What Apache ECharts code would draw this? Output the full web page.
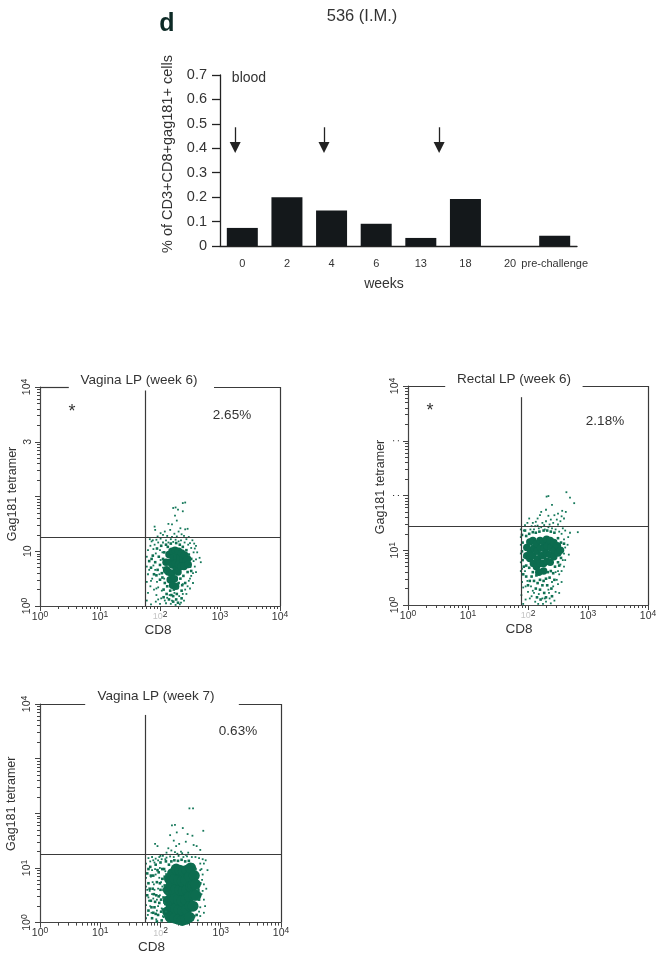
<!DOCTYPE html>
<html>
<head>
<meta charset="utf-8">
<style>
html, body { margin: 0; padding: 0; background: #fff; }
#container { width: 662px; height: 955px; }
</style>
<script src="https://cdn.jsdelivr.net/npm/echarts@6/dist/echarts.min.js"></script>
</head>
<body>
<div id="container"></div>
<script>
var weeks = ['0', '2', '4', '6', '13', '18', '20', 'pre-challenge'];
var tetramerPct = [0.074, 0.2, 0.145, 0.091, 0.033, 0.192, 0, 0.042];
// arrows sit between categories, x in category units
var arrowX = [-0.16, 1.83, 4.41];

var xTickLabels = ['10{s|0}', '10{s|1}', '{f|10}{s|2}', '10{s|3}', '10{s|4}'];
var yTickLabelsA = ['10{s|0}', '10', '', '3', '10{s|4}'];
var yTickLabelsB = ['10{s|0}', '10{s|1}', ':', ':', '10{s|4}'];
var yTickLabelsC = ['10{s|0}', '10{s|1}', '', '', '10{s|4}'];

// flow cytometry dots as [log10 CD8, log10 Gag181]
var denseA = [[2.1,.8],[2.11,.66],[2.15,.94],[2.16,.8],[2.14,.62],[2.17,.48],[2.2,1],[2.22,.88],[2.21,.75],[2.19,.6],[2.25,1.02],[2.28,.9],[2.26,.78],[2.27,.66],[2.24,.5],[2.31,1],[2.33,.88],[2.31,.76],[2.3,.62],[2.36,.97],[2.38,.85],[2.35,.72],[2.41,.93],[2.43,.82],[2.4,.72],[2.46,.86],[2.47,.76],[2.21,.38],[2.26,.36]];
var midA = [[1.82,.82],[1.85,.7],[1.88,.92],[1.9,.58],[1.92,.8],[1.95,1.05],[1.96,.66],[1.98,.9],[2,.48],[2,.75],[2.02,1.1],[2.03,.6],[2.05,.86],[2.06,.3],[2.07,.98],[2.08,.42],[2.1,1.12],[2.11,.22],[2.12,.36],[2.13,1.08],[2.17,.28],[2.18,1.14],[2.22,.18],[2.23,.3],[2.27,1.15],[2.28,.22],[2.31,.42],[2.33,1.12],[2.34,.5],[2.36,.28],[2.38,1.08],[2.39,.55],[2.42,.42],[2.44,1.02],[2.46,.62],[2.48,.94],[2.5,.72],[2.52,.86],[2.22,.08],[2.3,.06],[2.15,.12],[2.36,.14],[2.06,.16],[2.29,.33],[2.19,.2],[2.04,.52],[2.08,.62],[1.94,.56],[1.86,.86],[2.37,.38],[2.52,.64],[2.27,.12]];
var fineA = [[2.22,1.79],[2.26,1.8],[2.38,1.88],[2.42,1.89],[2.3,1.76],[2.25,1.65],[2.38,1.73],[2.2,1.49],[2.17,1.39],[2.14,1.5],[1.91,1.45],[1.92,1.39],[2.28,1.56],[2.34,1.42],[2.42,1.4],[2.46,1.41],[2.01,1.33],[2.08,1.36],[2.24,1.32],[2.31,1.36],[2.36,1.31],[1.96,1.27],[2.05,1.3],[2.12,1.28],[2.2,1.26],[2.28,1.27],[2.4,1.28],[2.48,1.26],[1.83,1.22],[1.88,1.2],[1.94,1.21],[2.01,1.23],[2.1,1.2],[2.18,1.22],[2.26,1.21],[2.35,1.2],[2.44,1.22],[2.54,1.2],[2.6,1.1],[2.62,.98],[2.66,.88],[2.68,.8],[2.58,.72],[2.56,.98],[2.6,.62],[2.52,.55],[2.48,.46],[2.5,.32],[2.44,.22],[2.55,.42],[2.4,.1],[2.33,.03],[2.26,.02],[2.18,.04],[2.1,.05],[2,.04],[1.93,.08],[1.85,.03],[1.78,.1],[1.8,.24],[1.84,.36],[1.78,.44],[1.8,.58],[1.78,.72],[1.78,.9],[1.8,1.02],[1.84,1.1],[1.89,1.04],[1.9,.3],[1.94,.2],[1.97,.34],[2.02,.14],[2.03,.28],[1.95,.44],[1.87,.5],[2.04,.98],[1.93,.96],[2,1.02],[2.42,.3],[2.38,.4],[2.47,1.12],[2.52,1.06],[2.57,1.14],[2.56,.82],[2.35,.06],[2.12,.15],[1.86,1.18],[1.91,1.12],[1.97,1.16],[2.05,1.16],[2.14,1.16],[2.22,1.17],[2.31,1.18],[2.41,1.16],[2.5,1.15],[1.82,.66],[1.85,.46],[1.89,.74],[1.92,.66],[1.94,.32],[1.99,.58],[2.01,.84],[2.05,.7],[2.07,.5],[2.16,.2],[2.2,.1],[2.24,.24],[2.32,.18],[2.38,.22],[2.46,.36],[2.5,.5],[2.55,.6],[2.6,.85],[2.58,1.05],[1.97,.12],[2.08,.1]];

var denseB = [[1.98,1.05],[1.98,.9],[2.03,1.15],[2.04,1],[2.03,.85],[2.08,1.18],[2.1,1.04],[2.08,.9],[2.09,.76],[2.14,1.12],[2.15,.98],[2.16,.84],[2.14,.7],[2.2,1.18],[2.21,1.04],[2.22,.9],[2.2,.76],[2.25,1.16],[2.27,1.03],[2.25,.9],[2.26,.76],[2.31,1.2],[2.32,1.07],[2.31,.94],[2.32,.8],[2.37,1.18],[2.38,1.05],[2.37,.92],[2.37,.78],[2.43,1.14],[2.44,1],[2.43,.88],[2.49,1.08],[2.5,.95],[2.54,1],[2.18,.6],[2.26,.62]];
var midB = [[1.9,1.28],[1.91,1.14],[1.9,.98],[1.91,.82],[1.93,.7],[1.92,.56],[1.97,1.26],[1.97,.72],[1.97,.52],[2.02,1.3],[2.02,.68],[2.03,.44],[2.08,1.33],[2.08,.6],[2.1,.44],[2.13,1.32],[2.14,.54],[2.13,.3],[2.19,1.34],[2.2,.46],[2.2,.28],[2.26,1.36],[2.26,.44],[2.27,.22],[2.32,1.36],[2.33,.6],[2.32,.36],[2.38,1.34],[2.38,.62],[2.39,.3],[2.44,1.32],[2.45,.7],[2.44,.46],[2.5,1.22],[2.5,.78],[2.55,1.14],[2.55,.86],[2.58,1],[2.4,.16],[2.21,.1],[2.15,.14],[2,.36],[2.06,.52],[2.16,.4],[2.24,.36],[2.3,.48],[2.36,.5],[2.42,.58],[1.95,1.36],[2.52,.72],[2.6,1.12],[2.3,.14]];
var fineB = [[2.64,2.06],[2.31,1.98],[2.34,1.99],[2.7,1.96],[2.77,1.86],[2.4,1.83],[2.57,1.72],[2.63,1.7],[2.5,1.67],[2.56,1.62],[2.22,1.7],[2.3,1.74],[2.34,1.63],[2.44,1.64],[2.16,1.58],[2.2,1.64],[2.38,1.56],[2.48,1.56],[2.54,1.53],[2.6,1.58],[2.02,1.58],[2.08,1.5],[2.13,1.52],[2.24,1.5],[2.3,1.53],[2.42,1.5],[2.5,1.47],[1.95,1.46],[1.99,1.5],[2.06,1.44],[2.16,1.45],[2.27,1.46],[2.36,1.47],[2.83,1.33],[2.62,1.36],[2.67,1.24],[2.66,1.1],[2.68,.92],[2.7,1.32],[2.62,.82],[2.6,.7],[2.56,.62],[2.52,.56],[2.56,.42],[2.5,.38],[2.46,.24],[2.52,.22],[2.44,.08],[2.36,.12],[2.3,.06],[2.25,.02],[2.38,.03],[2.12,.06],[2.06,.16],[2,.24],[1.96,.1],[1.92,.02],[1.89,.18],[1.92,.32],[1.9,.42],[1.96,.34],[2.03,.12],[2.08,.26],[2.17,.02],[2.28,.12],[2.35,.22],[1.88,.62],[1.88,.78],[1.88,.94],[1.88,1.1],[1.88,1.24],[1.88,1.38],[1.93,1.36],[2.04,1.38],[2.18,1.4],[2.34,1.42],[2.46,1.38],[2.56,1.3],[2.6,1.2],[2.62,1.05],[2.6,.94],[2.5,.62],[2.48,.46],[2.42,.34],[1.9,.66],[1.93,.88],[1.95,.62],[1.99,.44],[2.05,.34],[2.1,.22],[2.18,.2],[2.24,.12],[2.34,.28],[2.4,.42],[2.46,.6],[2.54,.74],[2.58,.82],[2.1,1.38],[2.22,1.42],[2.28,1.38],[2.4,1.4],[2.52,1.34],[2.58,1.4],[2.12,1.44]];

var denseC = [[2.12,.2],[2.13,.4],[2.13,.6],[2.15,.8],[2.16,.1],[2.18,.3],[2.19,.5],[2.18,.7],[2.2,.9],[2.24,.08],[2.25,.26],[2.24,.44],[2.26,.62],[2.24,.8],[2.26,.98],[2.3,.06],[2.31,.24],[2.3,.42],[2.32,.6],[2.3,.78],[2.32,.96],[2.36,.04],[2.37,.22],[2.36,.4],[2.38,.58],[2.36,.76],[2.38,.94],[2.42,.06],[2.43,.24],[2.42,.42],[2.44,.6],[2.42,.78],[2.44,.96],[2.48,.1],[2.49,.3],[2.48,.48],[2.5,.66],[2.48,.84],[2.5,1],[2.54,.3],[2.55,.5],[2.54,.68],[2.56,.86],[2.59,.5],[2.58,.7]];
var midC = [[1.78,.5],[1.78,.9],[1.8,.22],[1.8,.72],[1.83,1.02],[1.84,.4],[1.86,.08],[1.87,.62],[1.88,.86],[1.9,.28],[1.92,1.06],[1.93,.5],[1.94,.74],[1.96,.14],[1.97,.92],[1.98,.36],[2,.6],[2,1.1],[2.02,.04],[2.03,.8],[2.04,.24],[2.05,.46],[2.06,.98],[2.07,.68],[2.08,.12],[2.08,.34],[2.09,1.12],[2.1,.54],[2.1,.88],[2.14,1.06],[2.18,1.12],[2.23,1.14],[2.29,1.13],[2.35,1.15],[2.41,1.12],[2.47,1.13],[2.53,1.06],[2.58,.98],[2.6,.3],[2.6,.14],[2.62,.86],[2.63,.6],[2.64,.42],[2.56,.12],[2.53,.06],[2.66,.72],[2.14,.02],[1.94,.02],[1.82,.62],[1.85,.28],[1.89,.52],[1.92,.16],[1.95,.96],[1.99,.72],[2.01,.2],[2.03,.98],[2.05,.6],[2.07,.84],[1.84,.86],[1.97,.48],[1.8,.98],[1.88,.18],[1.91,.38],[2.01,.42]];
var fineC = [[2.48,2.09],[2.54,2.09],[2.19,1.78],[2.24,1.79],[2.37,1.73],[2.27,1.65],[2.71,1.68],[2.45,1.62],[2.53,1.59],[2.16,1.6],[2.22,1.5],[1.91,1.44],[1.95,1.4],[2.13,1.36],[2.26,1.4],[2.31,1.44],[2.42,1.48],[2.55,1.42],[2.6,1.4],[2.66,1.33],[2.34,1.3],[2.24,1.29],[2.46,1.28],[2.18,1.32],[2.1,1.28],[2,1.22],[2.28,1.26],[2.36,1.27],[2.42,1.24],[1.8,1.18],[1.86,1.2],[1.92,1.17],[1.98,1.2],[2.04,1.22],[2.1,1.19],[2.16,1.21],[2.22,1.2],[2.3,1.22],[2.38,1.2],[2.44,1.21],[2.52,1.2],[2.58,1.2],[2.64,1.18],[2.7,1.16],[2.72,1.08],[2.66,1.08],[2.68,.98],[2.7,.88],[2.72,.7],[2.68,.52],[2.72,.42],[2.66,.28],[2.66,.12],[2.62,.04],[2.72,.18],[2.76,.62],[2.78,.96],[2.75,1.14],[1.76,.08],[1.76,.32],[1.76,.66],[1.76,.82],[1.76,1.08],[1.81,.4],[1.82,.58],[1.84,.84],[1.85,.18],[1.88,.44],[1.89,.7],[1.91,.98],[1.9,1.1],[1.94,.22],[1.96,.62],[1.98,.82],[1.99,.5],[2.02,.26],[2.03,.66],[2.05,.1],[2.06,.8],[2.08,.94],[2.09,.2],[1.86,.96],[1.79,.14],[1.78,.6],[1.83,.3],[1.87,.74],[1.93,.06],[1.96,.3],[1.99,1],[2.04,.12],[2.06,.36],[1.92,.88],[1.83,1.12],[1.88,1.14],[1.96,1.14],[2.02,1.16],[2.08,1.16],[1.8,.46],[1.94,.42],[2.01,.74],[1.9,.6],[1.86,.52],[2.7,.58],[2.74,.3],[2.64,.2],[2.69,.78],[2.66,.96]];

var axisGrey = '#444';
var textGrey = '#333';
var greenDark = '#0c6c4f';
var greenMid = '#0f7052';
var greenFine = '#15785a';

var panels = [
    { left: 40, top: 387, width: 240, height: 219, yLabels: yTickLabelsA, yName: 'Gag181 tetramer', yGap: 12, yShift: 5, xGap: 11, xShift: 4,
      gateX: 1.756, gateY: 1.249, gateTop: 3.936, topGap: [0.48, 2.9], dense: denseA, mid: midA, fine: fineA, denseSize: 7.5 },
    { left: 408, top: 386, width: 240, height: 219, yLabels: yTickLabelsB, yName: 'Gag181 tetramer', yGap: 20, yShift: 17, xGap: 11, xShift: 18,
      gateX: 1.885, gateY: 1.447, gateTop: 3.796, topGap: [0.62, 2.91], dense: denseB, mid: midB, fine: fineB, denseSize: 7.5 },
    { left: 40, top: 704, width: 241, height: 219, yLabels: yTickLabelsC, yName: 'Gag181 tetramer', yGap: 22, yShift: 19, xGap: 11, xShift: 18,
      gateX: 1.743, gateY: 1.255, gateTop: 3.8, topGap: [0.75, 3.3], dense: denseC, mid: midC, fine: fineC, denseSize: 11 }
];

var notes = [
    ['d', 167, 24, 25, { fontWeight: 'bold', color: '#0d2a26' }],
    ['536 (I.M.)', 362, 16, 16.5, {}],
    ['blood', 249, 78, 14, {}],
    ['Vagina LP (week 6)', 139, 380, 13.5, {}],
    ['2.65%', 232, 415, 13.5, {}],
    ['*', 72, 412, 18, {}],
    ['Rectal LP (week 6)', 514, 379, 13.5, {}],
    ['2.18%', 605, 421, 13.5, {}],
    ['*', 430, 411, 18, {}],
    ['Vagina LP (week 7)', 156, 696, 13.5, {}],
    ['0.63%', 238, 731, 13.5, {}]
];

function pow10(v) {
    return Math.pow(10, v);
}

function toValues(points) {
    return points.map(function (p) {
        return [pow10(p[0]), pow10(p[1])];
    });
}

var decades = [1, 10, 100, 1000, 10000];
var minorValues = [];
decades.slice(0, 4).forEach(function (d) {
    for (var m = 2; m < 10; m++) {
        minorValues.push(d * m);
    }
});

var richTicks = {
    s: { fontSize: 8.5, color: textGrey, padding: [0, 0, 5, 0] },
    f: { fontSize: 9, color: '#c4c4c4' }
};

var grids = [{ left: 220, top: 75, width: 357, height: 171 }];
var xAxes = [{
    type: 'category',
    gridIndex: 0,
    data: weeks,
    name: 'weeks',
    nameLocation: 'middle',
    nameGap: 31,
    nameTextStyle: { fontSize: 14, color: textGrey, padding: [0, 29, 0, 0] },
    axisLine: { lineStyle: { color: '#222', width: 1.3 } },
    axisTick: { alignWithLabel: true, length: 7, lineStyle: { color: '#222', width: 1.3 } },
    axisLabel: { interval: 0, fontSize: 11, color: textGrey, margin: 12, hideOverlap: false }
}, {
    type: 'value',
    gridIndex: 0,
    min: -0.5,
    max: 7.5,
    show: false
}];
var yAxes = [{
    type: 'value',
    gridIndex: 0,
    min: 0,
    max: 0.7,
    interval: 0.1,
    name: '% of CD3+CD8+gag181+ cells',
    nameLocation: 'middle',
    nameGap: 45,
    nameTextStyle: { fontSize: 14.5, color: textGrey, padding: [0, 0, 0, 13] },
    splitLine: { show: false },
    axisLine: { show: true, onZero: false, lineStyle: { color: '#222', width: 1.3 } },
    axisTick: { show: true, length: 8, lineStyle: { color: '#222', width: 1.3 } },
    axisLabel: { fontSize: 14.5, color: textGrey, margin: 13 }
}];

var series = [{
    name: '% tetramer+',
    type: 'bar',
    xAxisIndex: 0,
    yAxisIndex: 0,
    barWidth: 31,
    data: tetramerPct,
    itemStyle: { color: '#14181b' }
}, {
    name: 'immunization',
    type: 'line',
    xAxisIndex: 1,
    yAxisIndex: 0,
    data: [],
    markLine: {
        silent: true,
        animation: false,
        symbol: ['none', 'triangle'],
        symbolSize: [11, 11],
        label: { show: false },
        lineStyle: { color: '#222', width: 1.3, type: 'solid' },
        data: arrowX.map(function (x) {
            return [{ coord: [x, 0.486] }, { coord: [x, 0.4035] }];
        })
    }
}];

panels.forEach(function (p, i) {
    var gridIndex = i + 1;
    grids.push({ left: p.left, top: p.top, width: p.width, height: p.height });
    var xMain = xAxes.length;
    var yMain = yAxes.length;

    xAxes.push({
        type: 'log',
        gridIndex: gridIndex,
        position: 'bottom',
        min: 1,
        max: 10000,
        name: 'CD8',
        nameLocation: 'middle',
        nameGap: p.xGap,
        nameTextStyle: { fontSize: 13.5, color: textGrey, padding: [0, p.xShift, 0, 0], lineHeight: 14 },
        splitLine: { show: false },
        axisLine: { onZero: false, lineStyle: { color: axisGrey, width: 1.2 } },
        axisTick: { customValues: decades, length: 5, lineStyle: { color: axisGrey } },
        axisLabel: {
            customValues: decades,
            fontSize: 10.5,
            color: textGrey,
            margin: 4,
            formatter: function (v) { return xTickLabels[Math.round(Math.log10(v))]; },
            rich: richTicks
        }
    }, {
        type: 'log',
        gridIndex: gridIndex,
        position: 'bottom',
        min: 1,
        max: 10000,
        splitLine: { show: false },
        axisLine: { show: false, onZero: false },
        axisLabel: { show: false },
        axisTick: { customValues: minorValues, length: 3, lineStyle: { color: axisGrey } }
    });
    yAxes.push({
        type: 'log',
        gridIndex: gridIndex,
        position: 'left',
        min: 1,
        max: 10000,
        name: p.yName,
        nameLocation: 'middle',
        nameGap: p.yGap,
        nameTextStyle: { fontSize: 12.5, color: textGrey, padding: [0, 0, 0, p.yShift] },
        splitLine: { show: false },
        axisLine: { show: true, onZero: false, lineStyle: { color: axisGrey, width: 1.2 } },
        axisTick: { show: true, customValues: decades, length: 5, lineStyle: { color: axisGrey } },
        axisLabel: {
            customValues: decades,
            rotate: 90,
            fontSize: 10.5,
            color: textGrey,
            margin: 6,
            formatter: function (v) { return p.yLabels[Math.round(Math.log10(v))]; },
            rich: richTicks
        }
    }, {
        type: 'log',
        gridIndex: gridIndex,
        position: 'left',
        min: 1,
        max: 10000,
        splitLine: { show: false },
        axisLine: { show: false, onZero: false },
        axisLabel: { show: false },
        axisTick: { show: true, customValues: minorValues, length: 3, lineStyle: { color: axisGrey } }
    });

    [[p.dense, greenDark, p.denseSize, 'circle'], [p.mid, greenMid, 2.6, 'rect'], [p.fine, greenFine, 1.8, 'rect']].forEach(function (layer, k) {
        series.push({
            name: p.yName + ' ' + gridIndex + ' layer ' + k,
            type: 'scatter',
            xAxisIndex: xMain,
            yAxisIndex: yMain,
            symbol: layer[3],
            symbolSize: layer[2],
            data: toValues(layer[0]),
            itemStyle: { color: layer[1], opacity: 1 },
            silent: true
        });
    });

    // quadrant gates and the box, the top edge is broken by the panel title
    series.push({
        name: 'gates ' + gridIndex,
        type: 'line',
        xAxisIndex: xMain,
        yAxisIndex: yMain,
        data: [],
        z: 5,
        markLine: {
            silent: true,
            animation: false,
            symbol: 'none',
            label: { show: false },
            lineStyle: { color: '#3a3a3a', width: 1.2, type: 'solid' },
            data: [
                [{ coord: [pow10(p.gateX), pow10(p.gateTop)] }, { coord: [pow10(p.gateX), 1] }],
                [{ coord: [1, pow10(p.gateY)] }, { coord: [10000, pow10(p.gateY)] }],
                [{ coord: [10000, 1] }, { coord: [10000, 10000] }],
                [{ coord: [1, 10000] }, { coord: [pow10(p.topGap[0]), 10000] }],
                [{ coord: [pow10(p.topGap[1]), 10000] }, { coord: [10000, 10000] }]
            ]
        }
    });
});

var chart = echarts.init(document.getElementById('container'));

chart.setOption({
    animation: false,
    backgroundColor: '#fff',
    textStyle: { fontFamily: '"Liberation Sans", Arial, sans-serif' },
    title: notes.map(function (n) {
        return {
            text: n[0],
            left: n[1],
            top: n[2],
            textAlign: 'center',
            textVerticalAlign: 'middle',
            padding: 0,
            textStyle: Object.assign({ fontSize: n[3], fontWeight: 'normal', color: textGrey, fontFamily: '"Liberation Sans", Arial, sans-serif' }, n[4])
        };
    }),
    grid: grids,
    xAxis: xAxes,
    yAxis: yAxes,
    series: series
});

window.addEventListener('resize', function () {
    chart.resize();
});
</script>
</body>
</html>
